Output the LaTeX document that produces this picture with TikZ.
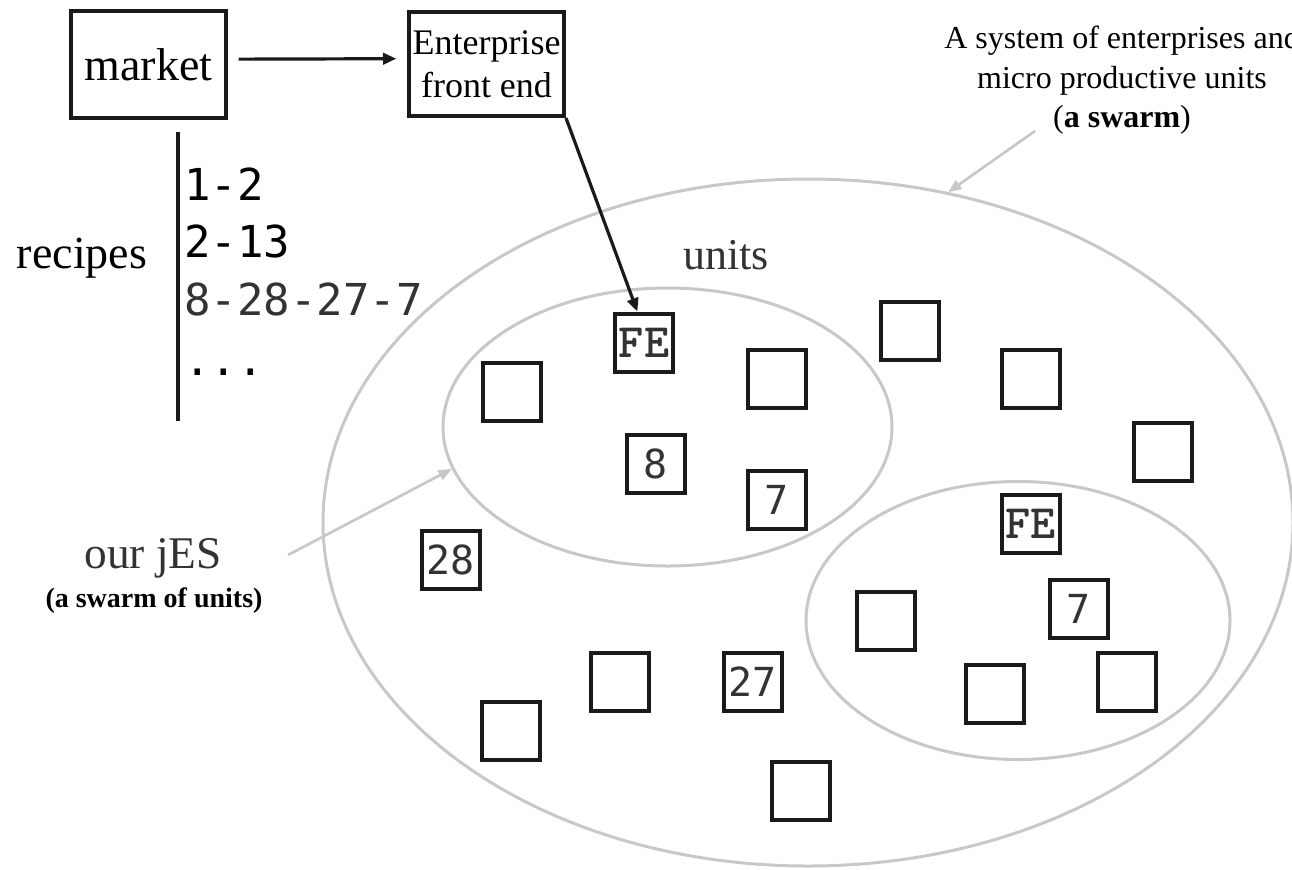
\documentclass[tikz,border=0pt]{standalone}
\usepackage{fontspec}
\setmainfont{Liberation Serif}
\newfontfamily\recfont{DejaVu Sans Mono}
\usetikzlibrary{arrows.meta,shapes.geometric}
\definecolor{boxblack}{HTML}{1A1A1A}
\definecolor{ellgray}{HTML}{C8C8C8}
\definecolor{numgray}{HTML}{333333}
\definecolor{txtgray}{HTML}{333333}
\begin{document}
\begin{tikzpicture}[x=0.75pt,y=-0.75pt,
  frame/.style={draw=boxblack,line width=3pt,inner sep=0pt,minimum width=116.25pt,align=center},
  unit/.style={draw=boxblack,line width=3pt,minimum size=43.5pt,inner sep=0pt,text=numgray,font=\recfont\fontsize{30}{30}\selectfont},
  feunit/.style={unit,font=\ttfamily\bfseries\fontsize{36}{36}\selectfont},
  swarmell/.style={ellipse,draw=ellgray,line width=2.25pt,inner sep=0pt},
  blackarrow/.style={draw=boxblack,line width=2.4pt,-{Triangle[length=10pt,width=8.5pt]}},
  grayarrow/.style={draw=ellgray,line width=2pt,-{Triangle[length=10pt,width=8pt]}},
  rectext/.style={anchor=base west,inner sep=0pt,font=\recfont\fontsize{33}{33}\selectfont},
  label/.style={anchor=base,inner sep=0pt},
]
\useasboundingbox (0,0) rectangle (1292,869);
\fill[white] (0,0) rectangle (1292,869);

% swarm ellipses
\node[swarmell,minimum width=727.5pt,minimum height=515.25pt] (sys) at (808,522.5) {};
\node[swarmell,minimum width=336.75pt,minimum height=208.5pt] (jes) at (667.5,427) {};
\node[swarmell,minimum width=318pt,minimum height=208.5pt] (jes2) at (1018,620.5) {};

% market and enterprise front end
\node[frame,minimum height=80.25pt,font=\fontsize{34.5}{40}\selectfont] (mkt) at (148.5,64.5) {market};
\node[frame,minimum height=78pt,font=\fontsize{27}{32}\selectfont] (ent) at (486.5,64) {Enterprise\\front end};

% units
\node[unit] (u1) at (511.5,391.5) {};
\node[feunit] (fe1) at (644,342.5) {FE};
\node[unit] (u2) at (777,379) {};
\node[unit] (u8) at (655.5,464) {8};
\node[unit] (u7) at (777,500) {7};
\node[unit] (u28) at (450.5,560) {28};
\node[unit] (u3) at (909.5,330.5) {};
\node[unit] (u4) at (1030.5,379) {};
\node[unit] (u5) at (1163,451.5) {};
\node[feunit] (fe2) at (1030.5,524) {FE};
\node[unit] (u6) at (885.5,621) {};
\node[unit] (u7b) at (1079,608.5) {7};
\node[unit] (u9) at (994.5,694) {};
\node[unit] (u10) at (1127,682) {};
\node[unit] (u11) at (510.5,730.5) {};
\node[unit] (u12) at (619.5,682) {};
\node[unit] (u27) at (752.5,682) {27};
\node[unit] (u13) at (800.5,790.5) {};

% connectors
\draw[blackarrow,shorten <=8pt,shorten >=8pt] ([yshift=4pt]mkt.east) -- ([yshift=4pt]ent.west);
\draw[blackarrow] (ent.south east) -- ([xshift=-5pt]fe1.north);

% recipes
\coordinate (vtop) at (178,132);
\coordinate (vbot) at (178,421);
\draw[boxblack,line width=2.6pt] (vtop) -- (vbot);
\node[label,font=\fontsize{34.5}{40}\selectfont] (recipes) at (82,268) {recipes};
\node[rectext] (r1) at (184,200) {1-2};
\node[rectext] (r2) at (184,257) {2-13};
\node[rectext,text=numgray] (r3) at (184,315) {8-28-27-7};
\node[rectext] (r4) at (184,375) {...};

% labels
\node[label,text=txtgray,font=\fontsize{33}{40}\selectfont] (unitslbl) at (726,269) {units};
\node[label,text=txtgray,font=\fontsize{34}{40}\selectfont] (jeslbl) at (153,568) {our jES};
\node[label,font=\bfseries\fontsize{21}{24}\selectfont] (jessub) at (154,607) {(a swarm of units)};
\node[label,font=\fontsize{24}{30}\selectfont] (sys1) at (1122,48) {A system of enterprises and};
\node[label,font=\fontsize{24}{30}\selectfont] (sys2) at (1122,88) {micro productive units};
\node[label,font=\fontsize{24}{30}\selectfont] (sys3) at (1122,127) {(\textbf{a swarm})};

% gray pointers
\coordinate (sysfrom) at (1035,131);
\draw[grayarrow] (sysfrom) -- (sys.67.5);
\coordinate (jesfrom) at (288,555);
\draw[grayarrow] (jesfrom) -- (jes.191);
\end{tikzpicture}
\end{document}
